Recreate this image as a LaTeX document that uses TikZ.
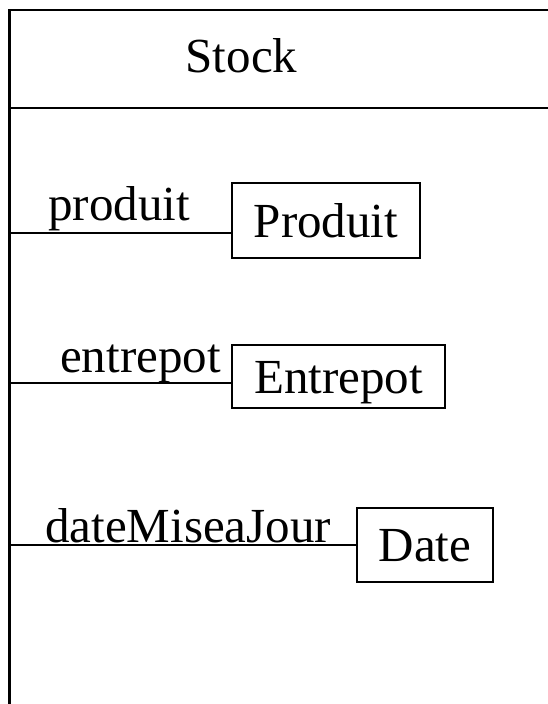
\documentclass[tikz,border=0pt]{standalone}
\usepackage{fontspec}
\setmainfont{Liberation Serif}
\usetikzlibrary{positioning}
\newcommand{\umlfont}{\fontsize{49}{58}\selectfont}
\tikzset{
  classbox/.style={draw,line width=1.6pt,inner sep=0pt,font=\umlfont,text height=33pt,text depth=0pt},
  rolelabel/.style={anchor=base west,inner sep=0pt,font=\umlfont},
  link/.style={line width=1.6pt},
  frame/.style={line width=2.4pt}
}

\begin{document}
\begin{tikzpicture}[x=1pt,y=-1pt]
\useasboundingbox (0,0) rectangle (548,704);
\clip (0,0) rectangle (548,704);
% class frame
\draw[frame] (560,10) -- (9.5,10) -- (9.5,720);
\draw[frame] (9.5,108) -- (560,108);
\node[rolelabel,anchor=base] (stock) at (241.5,72) {Stock};
% attribute types
\node[classbox,minimum width=188pt,minimum height=75pt] (produit) at (326,220.5) {Produit};
\node[classbox,minimum width=213pt,minimum height=63pt] (entrepot) at (338.5,376.5) {Entrepot};
\node[classbox,minimum width=136pt,minimum height=74pt] (date) at (425,545) {Date};
% links
\coordinate (pStart) at (9.5,233); \coordinate (eStart) at (9.5,383); \coordinate (dStart) at (9.5,545);
\draw[link] (pStart) -- (pStart -| produit.west);
\draw[link] (eStart) -- (eStart -| entrepot.west);
\draw[link] (dStart) -- (dStart -| date.west);
\node[rolelabel] (pRole) at (48,220) {produit};
\node[rolelabel] (eRole) at (60,372) {entrepot};
\node[rolelabel] (dRole) at (45,542) {dateMiseaJour};
\end{tikzpicture}
\end{document}
